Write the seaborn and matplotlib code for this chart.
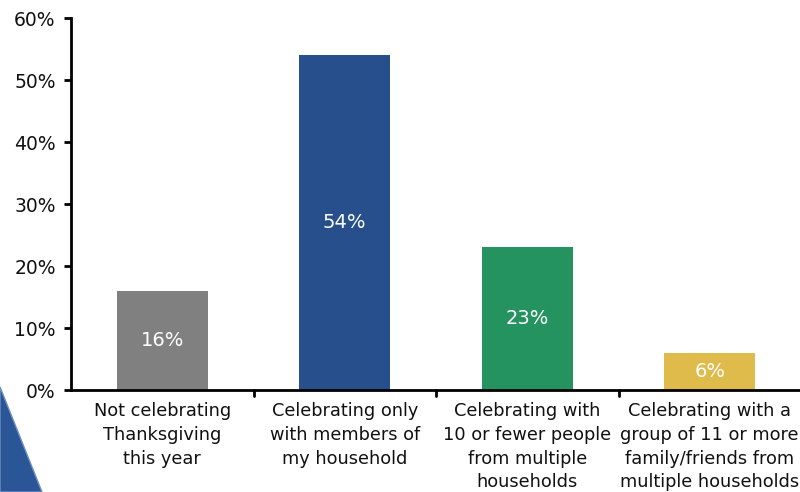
import matplotlib
matplotlib.use("Agg")
import matplotlib.pyplot as plt
from matplotlib.patches import Polygon
import seaborn as sns
import pandas as pd

categories = [
    "Not celebrating\nThanksgiving\nthis year",
    "Celebrating only\nwith members of\nmy household",
    "Celebrating with\n10 or fewer people\nfrom multiple\nhouseholds",
    "Celebrating with a\ngroup of 11 or more\nfamily/friends from\nmultiple households",
]
shares = [16, 54, 23, 6]
value_labels = ["16%", "54%", "23%", "6%"]
bar_colors = ["#808080", "#264f8c", "#24935f", "#dfbb4b"]
y_ticks = [0, 10, 20, 30, 40, 50, 60]
y_tick_labels = ["0%", "10%", "20%", "30%", "40%", "50%", "60%"]

sns.set_theme(style="white")
plt.rcParams["font.family"] = ["DejaVu Sans"]

df = pd.DataFrame({"category": categories, "share": shares})

fig = plt.figure(figsize=(8.0, 4.92), dpi=100)

# decorative corner shape
corner = Polygon([(0, 0), (0, 105 / 492), (42 / 800, 0)], closed=True,
                 transform=fig.transFigure, facecolor="#2a5596",
                 edgecolor="#6f8fc0", linewidth=1, zorder=0)
fig.patches.append(corner)

ax = fig.add_axes([71 / 800, 1 - 390 / 492, 730 / 800, (390 - 18) / 492])
ax.set_facecolor("none")

sns.barplot(data=df, x="category", y="share", hue="category",
            palette=bar_colors, width=0.5, legend=False, ax=ax,
            saturation=1, linewidth=0)

ax.set_xlim(-0.5, 3.5)
ax.set_ylim(0, 60)
ax.set_yticks(y_ticks)
ax.set_yticklabels(y_tick_labels, fontsize=13.5, color="#111111")
ax.set_xticks(range(len(categories)))
ax.set_xticklabels(categories, fontsize=12.8, color="#111111", linespacing=1.4)
ax.tick_params(axis="x", length=0, pad=9)
ax.tick_params(axis="y", length=5, width=2, color="black", left=True, pad=6)

# boundary ticks between categories
for b in [0.5, 1.5, 2.5]:
    ax.plot([b, b], [0, -1.0], color="black", lw=2, clip_on=False)

for s in ["top", "right"]:
    ax.spines[s].set_visible(False)
for s in ["left", "bottom"]:
    ax.spines[s].set_color("black")
    ax.spines[s].set_linewidth(2)

ax.set_xlabel("")
ax.set_ylabel("")

for i, (v, lab) in enumerate(zip(shares, value_labels)):
    ax.text(i, v / 2, lab, ha="center", va="center", color="white", fontsize=14)

fig.savefig("out.png", dpi=100)
